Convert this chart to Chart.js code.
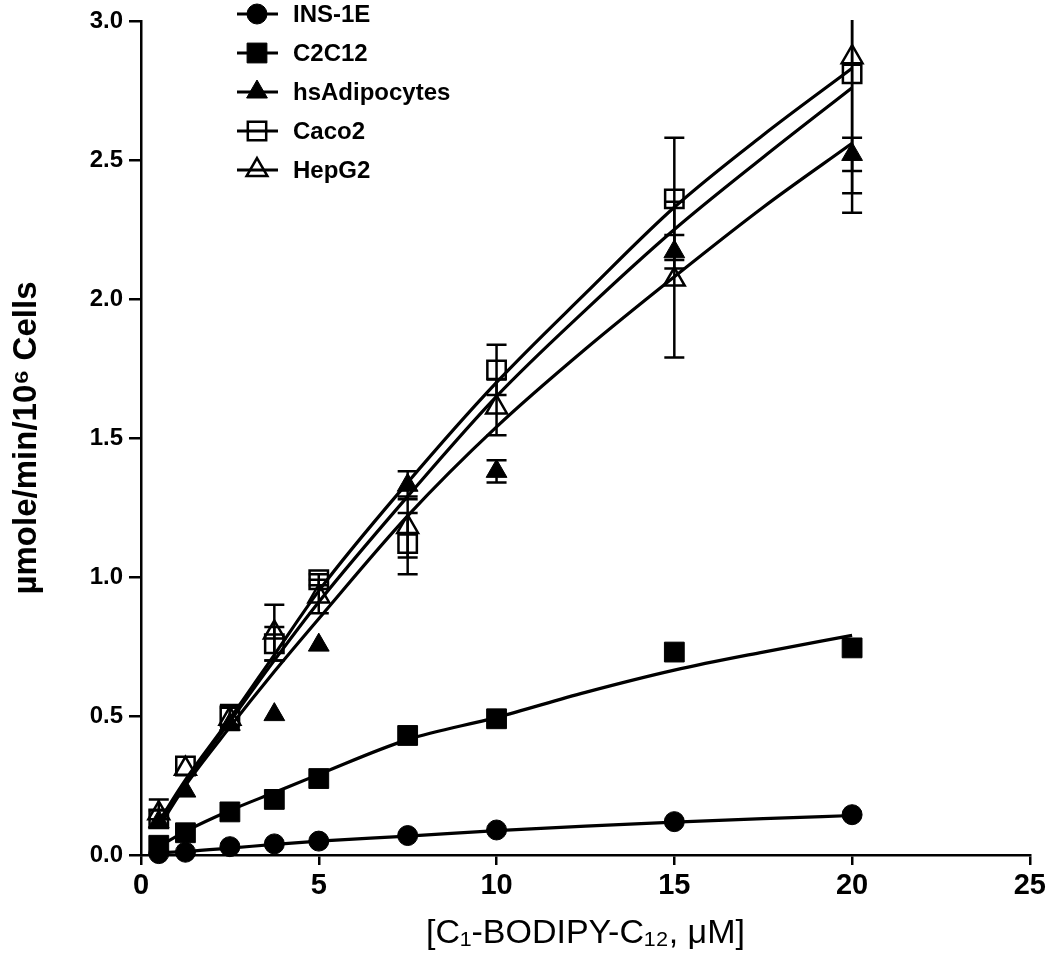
<!DOCTYPE html>
<html>
<head>
<meta charset="utf-8">
<script src="https://cdn.jsdelivr.net/npm/chart.js@4.4.0/dist/chart.umd.min.js"></script>
<style>
  body { margin: 0; background: #fff; }
  canvas { display: block; }
</style>
</head>
<body>
<canvas id="chart" width="1050" height="954"></canvas>
<script>
// concentrations, µM
const conc = [0.5, 1.25, 2.5, 3.75, 5, 7.5, 10, 15, 20];

// measured uptake, µmole/min/10^6 cells
const ins1e = [0.005, 0.01, 0.03, 0.04, 0.05, 0.07, 0.09, 0.12, 0.145];
const c2c12 = [0.035, 0.08, 0.155, 0.2, 0.275, 0.43, 0.49, 0.73, 0.745];
const adipo = [0.12, 0.23, 0.47, 0.505, 0.755, 1.33, 1.38, 2.17, 2.52];
const adipoErr = [0, 0, 0, 0, 0, 0.05, 0.04, 0.06, 0.06];
const caco2 = [0.13, 0.32, 0.5, 0.76, 0.99, 1.12, 1.745, 2.36, 2.81];
const caco2Err = [0.03, 0, 0.04, 0.06, 0.02, 0.11, 0.09, 0.22, 0.43];
const hepg2 = [0.15, 0.31, 0.49, 0.8, 0.93, 1.18, 1.61, 2.07, 2.87];
const hepg2Err = [0.05, 0, 0.04, 0.1, 0.06, 0.11, 0.1, 0.28, 0.56];

// fitted curves
const fitX = [0.5, 1.25, 2.5, 3.75, 5, 7.5, 10, 12.5, 15, 17.5, 20];
const fitIns = [0.008, 0.013, 0.025, 0.038, 0.05, 0.068, 0.088, 0.104, 0.118, 0.131, 0.142];
const fitC2c12 = [0.03, 0.085, 0.16, 0.225, 0.29, 0.415, 0.495, 0.585, 0.665, 0.73, 0.79];
const fitTop = [0.12, 0.27, 0.49, 0.72, 0.95, 1.34, 1.7, 2.02, 2.33, 2.59, 2.83];
const fitMid = [0.11, 0.26, 0.48, 0.7, 0.91, 1.29, 1.65, 1.96, 2.25, 2.51, 2.76];
const fitLow = [0.1, 0.25, 0.46, 0.66, 0.85, 1.22, 1.54, 1.82, 2.08, 2.33, 2.56];

const xTicks = [0, 5, 10, 15, 20, 25];
const yTicks = [0, 0.5, 1, 1.5, 2, 2.5, 3];

const pts = (xs, ys) => xs.map((x, i) => ({ x: x, y: ys[i] }));

function markers(label, ys, style, filled, radius, errs) {
  return {
    label: label,
    data: pts(conc, ys),
    errors: errs,
    showLine: false,
    pointStyle: style,
    pointRadius: radius,
    pointHoverRadius: radius,
    pointBackgroundColor: filled ? '#000' : 'rgba(0,0,0,0)',
    pointBorderColor: '#000',
    pointBorderWidth: filled ? 1 : 2.5,
    clip: false,
    order: 0
  };
}

function fit(ys) {
  return {
    label: '',
    data: pts(fitX, ys),
    showLine: true,
    borderColor: '#000',
    borderWidth: 3.2,
    pointRadius: 0,
    cubicInterpolationMode: 'monotone',
    fill: false,
    isFit: true,
    order: 1
  };
}

const errorBars = {
  id: 'errorBars',
  beforeDatasetsDraw(chart) {
    const ctx = chart.ctx;
    const area = chart.chartArea;
    const xs = chart.scales.x, ys = chart.scales.y;
    ctx.save();
    ctx.beginPath();
    ctx.rect(area.left, area.top - 1, area.right - area.left, area.bottom - area.top + 20);
    ctx.clip();
    ctx.strokeStyle = '#000';
    ctx.lineWidth = 2.5;
    chart.data.datasets.forEach(ds => {
      if (!ds.errors) return;
      ds.data.forEach((p, i) => {
        const e = ds.errors[i];
        if (!e) return;
        const px = xs.getPixelForValue(p.x);
        const top = ys.getPixelForValue(p.y + e);
        const bot = ys.getPixelForValue(p.y - e);
        ctx.beginPath();
        ctx.moveTo(px, top); ctx.lineTo(px, bot);
        ctx.moveTo(px - 10, top); ctx.lineTo(px + 10, top);
        ctx.moveTo(px - 10, bot); ctx.lineTo(px + 10, bot);
        ctx.stroke();
      });
    });
    ctx.restore();
  }
};

const legendBox = {
  id: 'legendBox',
  afterDraw(chart) {
    const ctx = chart.ctx;
    const items = chart.data.datasets.filter(d => !d.isFit);
    ctx.save();
    items.forEach((ds, i) => {
      const y = 14 + i * 39;
      ctx.strokeStyle = '#000';
      ctx.lineWidth = 3;
      ctx.beginPath();
      ctx.moveTo(237, y); ctx.lineTo(278, y);
      ctx.stroke();
      ctx.fillStyle = ds.pointBackgroundColor;
      ctx.strokeStyle = '#000';
      ctx.lineWidth = ds.pointBorderWidth;
      Chart.helpers.drawPoint(ctx, { pointStyle: ds.pointStyle, radius: ds.pointRadius, borderWidth: ds.pointBorderWidth }, 257, y);
      ctx.fillStyle = '#000';
      ctx.font = 'bold 24px "Liberation Sans", Arial, sans-serif';
      ctx.textBaseline = 'middle';
      ctx.fillText(ds.label, 293, y + 1);
    });
    ctx.restore();
  }
};

new Chart(document.getElementById('chart').getContext('2d'), {
  type: 'scatter',
  data: {
    datasets: [
      markers('INS-1E', ins1e, 'circle', true, 10, null),
      markers('C2C12', c2c12, 'rect', true, 14, null),
      markers('hsAdipocytes', adipo, 'triangle', true, 12, adipoErr),
      markers('Caco2', caco2, 'rect', false, 13, caco2Err),
      markers('HepG2', hepg2, 'triangle', false, 12, hepg2Err),
      fit(fitIns),
      fit(fitC2c12),
      fit(fitTop),
      fit(fitMid),
      fit(fitLow)
    ]
  },
  options: {
    responsive: false,
    animation: false,
    layout: { padding: { left: 0, top: 21, right: 17, bottom: 0 } },
    plugins: {
      legend: { display: false },
      tooltip: { enabled: false }
    },
    scales: {
      x: {
        type: 'linear',
        min: 0,
        max: 25,
        afterFit: s => { s.height = 99; },
        afterBuildTicks: s => { s.ticks = xTicks.map(v => ({ value: v })); },
        ticks: {
          color: '#000',
          padding: 4,
          font: { family: '"Liberation Sans", Arial', size: 29, weight: 'bold' }
        },
        grid: { drawOnChartArea: false, color: '#000', lineWidth: 2.5, tickLength: 10 },
        border: { color: '#000', width: 2.5 },
        title: {
          display: true,
          text: '[C₁-BODIPY-C₁₂, μM]',
          color: '#000',
          padding: { top: 0, bottom: 0 },
          font: { family: '"Liberation Sans", Arial', size: 34 }
        }
      },
      y: {
        type: 'linear',
        min: 0,
        max: 3,
        afterFit: s => { s.width = 141; },
        afterBuildTicks: s => { s.ticks = yTicks.map(v => ({ value: v })); },
        ticks: {
          color: '#000',
          padding: 6,
          callback: v => Number(v).toFixed(1),
          font: { family: '"Liberation Sans", Arial', size: 24, weight: 'bold' }
        },
        grid: { drawOnChartArea: false, color: '#000', lineWidth: 2.5, tickLength: 12 },
        border: { color: '#000', width: 2.5 },
        title: {
          display: true,
          text: 'µmole/min/10⁶ Cells',
          color: '#000',
          padding: { top: 7, bottom: 0 },
          font: { family: '"Liberation Sans", Arial', size: 33, weight: 'bold' }
        }
      }
    }
  },
  plugins: [errorBars, legendBox]
});
</script>
</body>
</html>
